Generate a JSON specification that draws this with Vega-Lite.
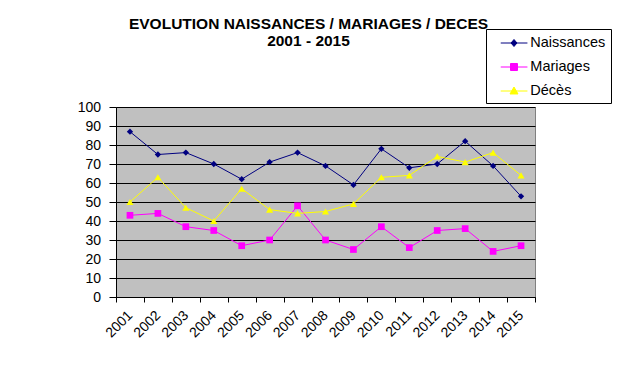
{
  "$schema": "https://vega.github.io/schema/vega-lite/v6.json",
  "autosize": "none",
  "width": 419,
  "height": 190,
  "padding": {"left": 116, "top": 107, "right": 93, "bottom": 72},
  "background": "white",
  "config": {
    "font": "Liberation Sans",
    "view": {"fill": "#C0C0C0", "stroke": "#808080", "strokeWidth": 1},
    "axis": {"labelFont": "Liberation Sans", "labelColor": "black", "labelFontSize": 14, "domainColor": "black", "domainWidth": 1, "tickColor": "black", "tickWidth": 1, "title": null}
  },
  "title": {
    "text": ["EVOLUTION NAISSANCES / MARIAGES / DECES", "2001 - 2015"],
    "font": "Liberation Sans",
    "fontSize": 15.5,
    "fontWeight": "bold",
    "color": "black",
    "lineHeight": 17,
    "anchor": "middle",
    "frame": "group",
    "dx": -17,
    "offset": -21
  },
  "data": {
    "values": [
      {"annee": "2001", "serie": "Naissances", "v": 87},
      {"annee": "2002", "serie": "Naissances", "v": 75},
      {"annee": "2003", "serie": "Naissances", "v": 76},
      {"annee": "2004", "serie": "Naissances", "v": 70},
      {"annee": "2005", "serie": "Naissances", "v": 62},
      {"annee": "2006", "serie": "Naissances", "v": 71},
      {"annee": "2007", "serie": "Naissances", "v": 76},
      {"annee": "2008", "serie": "Naissances", "v": 69},
      {"annee": "2009", "serie": "Naissances", "v": 59},
      {"annee": "2010", "serie": "Naissances", "v": 78},
      {"annee": "2011", "serie": "Naissances", "v": 68},
      {"annee": "2012", "serie": "Naissances", "v": 70},
      {"annee": "2013", "serie": "Naissances", "v": 82},
      {"annee": "2014", "serie": "Naissances", "v": 69},
      {"annee": "2015", "serie": "Naissances", "v": 53},
      {"annee": "2001", "serie": "Mariages", "v": 43},
      {"annee": "2002", "serie": "Mariages", "v": 44},
      {"annee": "2003", "serie": "Mariages", "v": 37},
      {"annee": "2004", "serie": "Mariages", "v": 35},
      {"annee": "2005", "serie": "Mariages", "v": 27},
      {"annee": "2006", "serie": "Mariages", "v": 30},
      {"annee": "2007", "serie": "Mariages", "v": 48},
      {"annee": "2008", "serie": "Mariages", "v": 30},
      {"annee": "2009", "serie": "Mariages", "v": 25},
      {"annee": "2010", "serie": "Mariages", "v": 37},
      {"annee": "2011", "serie": "Mariages", "v": 26},
      {"annee": "2012", "serie": "Mariages", "v": 35},
      {"annee": "2013", "serie": "Mariages", "v": 36},
      {"annee": "2014", "serie": "Mariages", "v": 24},
      {"annee": "2015", "serie": "Mariages", "v": 27},
      {"annee": "2001", "serie": "Décès", "v": 50},
      {"annee": "2002", "serie": "Décès", "v": 63},
      {"annee": "2003", "serie": "Décès", "v": 47},
      {"annee": "2004", "serie": "Décès", "v": 40},
      {"annee": "2005", "serie": "Décès", "v": 57},
      {"annee": "2006", "serie": "Décès", "v": 46},
      {"annee": "2007", "serie": "Décès", "v": 44},
      {"annee": "2008", "serie": "Décès", "v": 45},
      {"annee": "2009", "serie": "Décès", "v": 49},
      {"annee": "2010", "serie": "Décès", "v": 63},
      {"annee": "2011", "serie": "Décès", "v": 64},
      {"annee": "2012", "serie": "Décès", "v": 74},
      {"annee": "2013", "serie": "Décès", "v": 71},
      {"annee": "2014", "serie": "Décès", "v": 76},
      {"annee": "2015", "serie": "Décès", "v": 64}
    ]
  },
  "encoding": {
    "x": {
      "field": "annee",
      "type": "ordinal",
      "bandPosition": 0.5,
      "scale": {"type": "band", "paddingInner": 0, "paddingOuter": 0},
      "axis": {"labelAngle": -45, "labelAlign": "right", "labelBaseline": "middle", "tickBand": "extent", "tickSize": 5, "labelPadding": 11, "labelDx": 3.5, "grid": false}
    },
    "y": {
      "field": "v",
      "type": "quantitative",
      "scale": {"domain": [0, 100], "nice": false},
      "axis": {"values": [0, 10, 20, 30, 40, 50, 60, 70, 80, 90, 100], "grid": true, "gridColor": "black", "gridWidth": 1, "gridOpacity": 1, "tickSize": 7, "labelPadding": 8.5}
    }
  },
  "layer": [
    {
      "transform": [{"filter": "datum.v > 1000"}],
      "mark": {"type": "point", "filled": true, "opacity": 1, "strokeWidth": 1},
      "encoding": {
        "fill": {"field": "serie", "type": "nominal", "scale": {"domain": ["Naissances", "Mariages", "Décès"], "range": ["#000080", "#FF00FF", "#FFFF00"]},
          "legend": {"title": null, "orient": "none", "legendX": 370, "legendY": -78, "padding": 5, "strokeColor": "black", "fillColor": "white", "symbolSize": 289, "symbolOffset": 14, "labelOffset": 7.3, "rowPadding": 8, "labelFontSize": 14.5, "labelFont": "Liberation Sans", "labelColor": "black", "symbolStrokeWidth": 1, "symbolOpacity": 1, "labelExpr": "datum.label + '\u00a0\u00a0\u00a0'"}},
        "stroke": {"field": "serie", "type": "nominal", "scale": {"domain": ["Naissances", "Mariages", "Décès"], "range": ["#000080", "#FF00FF", "#FFFF00"]},
          "legend": {"title": null, "orient": "none", "legendX": 370, "legendY": -78, "padding": 5, "strokeColor": "black", "fillColor": "white", "symbolSize": 289, "symbolOffset": 14, "labelOffset": 7.3, "rowPadding": 8, "labelFontSize": 14.5, "labelFont": "Liberation Sans", "labelColor": "black", "symbolStrokeWidth": 1, "symbolOpacity": 1, "labelExpr": "datum.label + '\u00a0\u00a0\u00a0'"}},
        "shape": {"field": "serie", "type": "nominal", "scale": {"domain": ["Naissances", "Mariages", "Décès"], "range": ["M-1.56,0H1.58M0,-0.41L0.35,0L0,0.41L-0.35,0Z", "M-1.56,0H1.58M-0.41,-0.41H0.41V0.41H-0.41Z", "M-1.56,0H1.58M0,-0.47L0.47,0.35H-0.47Z"]},
          "legend": {"title": null, "orient": "none", "legendX": 370, "legendY": -78, "padding": 5, "strokeColor": "black", "fillColor": "white", "symbolSize": 289, "symbolOffset": 14, "labelOffset": 7.3, "rowPadding": 8, "labelFontSize": 14.5, "labelFont": "Liberation Sans", "labelColor": "black", "symbolStrokeWidth": 1, "symbolOpacity": 1, "labelExpr": "datum.label + '\u00a0\u00a0\u00a0'"}}
      }
    },
    {
      "mark": {"type": "line", "strokeWidth": 1},
      "encoding": {
        "stroke": {"field": "serie", "type": "nominal"}
      }
    },
    {
      "transform": [{"filter": "datum.serie === 'Naissances'"}],
      "mark": {"type": "point", "shape": "diamond", "filled": true, "opacity": 1, "size": 40},
      "encoding": {
        "fill": {"field": "serie", "type": "nominal"}
      }
    },
    {
      "transform": [{"filter": "datum.serie === 'Mariages'"}],
      "mark": {"type": "point", "shape": "square", "filled": true, "opacity": 1, "size": 45},
      "encoding": {
        "fill": {"field": "serie", "type": "nominal"}
      }
    },
    {
      "transform": [{"filter": "datum.serie === 'Décès'"}],
      "mark": {"type": "point", "shape": "triangle-up", "filled": true, "opacity": 1, "size": 50},
      "encoding": {
        "fill": {"field": "serie", "type": "nominal"}
      }
    }
  ]
}
